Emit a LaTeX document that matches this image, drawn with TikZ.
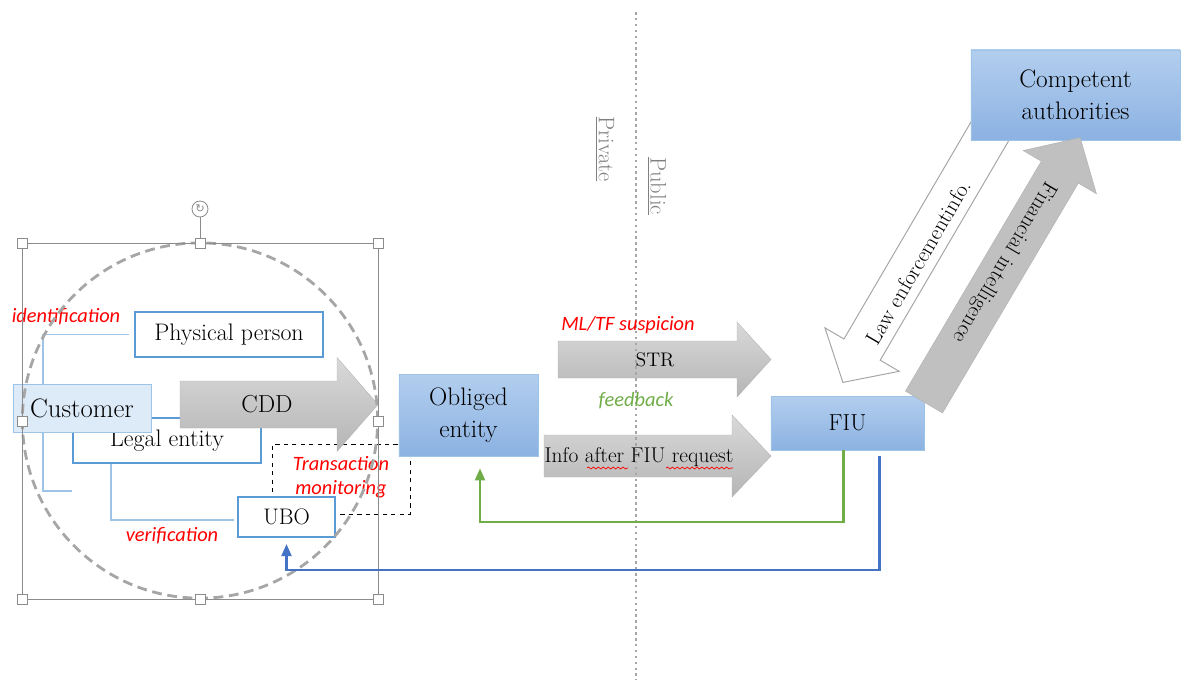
\documentclass[tikz,border=0pt]{standalone}
\usepackage{fontspec}
\newfontfamily\notefont{Carlito}
\newfontfamily\symfont{DejaVu Sans}
\usetikzlibrary{arrows.meta, decorations.pathmorphing}

\definecolor{boxblue}{HTML}{5B9BD5}
\definecolor{lineblue}{HTML}{9DC3E6}
\definecolor{topblue}{HTML}{B2CEEE}
\definecolor{botblue}{HTML}{8CB2E2}
\definecolor{custfill}{HTML}{DDEAF7}
\definecolor{fbgreen}{HTML}{70AD47}
\definecolor{reqblue}{HTML}{4472C4}
\definecolor{arrtop}{HTML}{D9D9D9}
\definecolor{arrbot}{HTML}{B5B5B5}
\definecolor{selgray}{HTML}{8C8C8C}
\definecolor{ringgray}{HTML}{A6A6A6}
\definecolor{sidegray}{HTML}{808080}

% block arrow: style, tail, angle, length, half body, half head, head length
\newcommand{\blockarrow}[7]{%
  \path[#1, shift={#2}, rotate=#3]
    (0,-#5) -- ({#4-#7},-#5) -- ({#4-#7},-#6) -- (#4,0)
    -- ({#4-#7},#6) -- ({#4-#7},#5) -- (0,#5) -- cycle;
}

\begin{document}
\begin{tikzpicture}[
  x=0.025cm, y=-0.025cm,
  >=Stealth,
  entity/.style={
    rectangle, draw=boxblue, line width=1.5pt, fill=white,
    inner sep=0pt, font=\fontsize{17}{20}\selectfont
  },
  party/.style={
    rectangle, draw=lineblue, line width=0.6pt,
    top color=topblue, bottom color=botblue, inner sep=0pt,
    align=center, font=\fontsize{18}{23}\selectfont
  },
  note/.style={text=red, font=\notefont\itshape\fontsize{14.5}{18}\selectfont},
  sidelabel/.style={text=sidegray, font=\fontsize{16}{19}\selectfont},
  tree/.style={draw=lineblue, line width=0.8pt},
  grayarrow/.style={top color=arrtop, bottom color=arrbot, draw=arrbot, line width=0.3pt},
  handle/.style={
    rectangle, draw=selgray, fill=white, line width=0.6pt,
    minimum size=0.25cm, inner sep=0pt
  },
  fbline/.style={draw=fbgreen, line width=1.5pt, -{Triangle[length=0.3cm, width=0.25cm]}},
  reqline/.style={draw=reqblue, line width=1.5pt, -{Triangle[length=0.3cm, width=0.25cm]}},
]

  \useasboundingbox (0,0) rectangle (1181,680);

  % -------------------------------------------------------
  %  Customer side
  % -------------------------------------------------------
  \coordinate (brk) at (43,491);
  \coordinate (ubocorner) at (111,520);
  \node[entity, minimum width=4.7cm, minimum height=1.125cm] (legal) at (167,440.5) {Legal entity};
  \node[entity, minimum width=4.7cm, minimum height=1.125cm] (phys) at (229,334.5) {Physical person};
  \draw[tree] ([xshift=-0.125cm]phys.west) -| (brk) -- ++(29,0);
  \node[rectangle, draw=lineblue, line width=0.6pt, fill=custfill, inner sep=0pt,
        minimum width=3.45cm, minimum height=1.2cm, font=\fontsize{19}{22}\selectfont]
        (cust) at (82,408) {Customer};

  \node[rectangle, draw, dashed, line width=0.7pt, minimum width=3.425cm,
        minimum height=1.75cm] (tmon) at (341.5,479) {};
  \node[note, align=center, font=\notefont\itshape\fontsize{14.5}{17.5}\selectfont] at (341,477) {Transaction\\monitoring};
  \node[entity, minimum width=2.425cm, minimum height=1.0cm,
        font=\fontsize{16}{19}\selectfont] (ubo) at (286.5,517) {UBO};
  \draw[tree] (legal.south -| ubocorner) -- (ubocorner) -- ([xshift=-0.075cm]ubocorner -| ubo.west);

  \blockarrow{grayarrow}{(180,404.5)}{0}{198}{23.5}{47}{41}
  \node[font=\fontsize{17.5}{20}\selectfont] (cdd) at (267,404) {CDD};

  \node[note] (ident) at (66,317) {identification};
  \node[note] (verif) at (172,536) {verification};

  % -------------------------------------------------------
  %  Selection frame round the customer group
  % -------------------------------------------------------
  \draw[ringgray, line width=2pt, dash pattern=on 7pt off 4pt] (200,420.5) circle[radius=4.44cm];
  \draw[selgray, line width=0.6pt] (22,243) rectangle (378,599);
  \node[circle, draw=selgray, fill=white, line width=0.6pt, minimum size=0.4cm,
        inner sep=0pt, font=\symfont\fontsize{8}{8}\selectfont, text=selgray] (rot) at (200,209) {↻};
  \foreach \hx/\hy/\hn in {22/243/hnw, 200/243/hn, 378/243/hne, 22/421/hw,
                           378/421/he, 22/599/hsw, 200/599/hs, 378/599/hse}
    \node[handle] (\hn) at (\hx,\hy) {};
  \draw[selgray, line width=0.6pt] (rot.south) -- (hn.north);

  % -------------------------------------------------------
  %  Reporting arrows (private to public)
  % -------------------------------------------------------
  \blockarrow{grayarrow}{(558,359.5)}{0}{213}{18.5}{37.5}{34}
  \node[font=\fontsize{14}{17}\selectfont] (str) at (655,360) {STR};
  \blockarrow{grayarrow}{(544,456)}{0}{227}{21}{41}{39}
  \node[font=\fontsize{15.2}{18}\selectfont] (info) at (639,457) {Info after FIU request};
  \draw[red, line width=0.5pt, decorate, decoration={snake, amplitude=0.7pt, segment length=3.5pt}]
    (587,468) -- (628,468);
  \draw[red, line width=0.5pt, decorate, decoration={snake, amplitude=0.7pt, segment length=3.5pt}]
    (666,468) -- (733,468);

  \draw[sidegray!70, line width=1.8pt, dash pattern=on 1.8pt off 2.4pt] (636,12) -- (636,680);
  \node[sidelabel, rotate=-90] (private) at (605,149) {\underline{Private}};
  \node[sidelabel, rotate=-90] (public) at (657,186) {\underline{Public}};

  \node[note] (susp) at (628,325) {ML/TF suspicion};
  \node[note, text=fbgreen] (feedb) at (636,401) {feedback};

  % -------------------------------------------------------
  %  Authorities
  % -------------------------------------------------------
  \node[party, minimum width=3.475cm, minimum height=2.05cm] (obliged) at (468.5,415) {Obliged\\entity};
  \node[party, minimum width=3.825cm, minimum height=1.35cm,
        font=\fontsize{16.5}{20}\selectfont] (fiu) at (847.5,423) {FIU};

  \blockarrow{fill=white, draw=ringgray, line width=0.7pt}{(1000,114)}{-120.35}{311}{21}{43}{38}
  \node[party, minimum width=5.225cm, minimum height=2.25cm] (auth) at (1075.5,95) {Competent\\authorities};
  \blockarrow{fill=arrbot!85, draw=arrbot, line width=0.4pt}{(924,402)}{59.42}{307}{21.5}{42.5}{40}

  \node[rotate=59.65, font=\fontsize{15.5}{18}\selectfont] (law) at (918,262) {Law enforcementinfo.};
  \node[rotate=-120.58, font=\fontsize{15.5}{18}\selectfont] (finint) at (1004,262) {Financial intelligence};

  % -------------------------------------------------------
  %  Feedback and requests back to the private side
  % -------------------------------------------------------
  \coordinate (fbturn) at (480,522);
  \coordinate (reqturn) at (286.5,570);
  \draw[fbline, shorten >=0.3cm] ([xshift=-0.1cm]fiu.south) |- (fbturn) -- (obliged.south -| fbturn);
  \draw[reqline, shorten <=0.15cm, shorten >=0.15cm] ([xshift=0.8cm]fiu.south) |- (reqturn) -- (ubo.south);

\end{tikzpicture}
\end{document}
